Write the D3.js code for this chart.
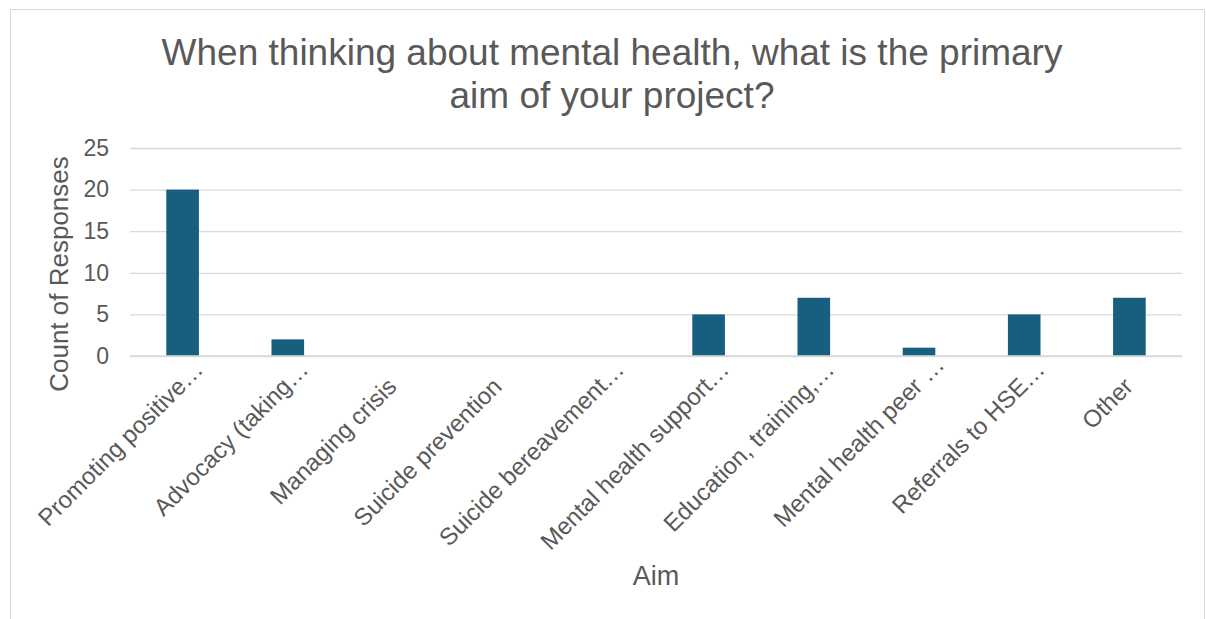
<!DOCTYPE html>
<html>
<head>
<meta charset="utf-8">
<script src="https://cdn.jsdelivr.net/npm/d3@7"></script>
<style>
  html, body { margin: 0; padding: 0; background: #fff; }
  svg { display: block; font-family: "Liberation Sans", Arial, sans-serif; }
</style>
</head>
<body>
<svg id="chart" width="1206" height="619"></svg>
<script>
// Survey responses by primary aim
const categories = [
  "Promoting positive…",
  "Advocacy (taking…",
  "Managing crisis",
  "Suicide prevention",
  "Suicide bereavement…",
  "Mental health support…",
  "Education, training,…",
  "Mental health peer …",
  "Referrals to HSE…",
  "Other"
];
const counts = [20, 2, 0, 0, 0, 5, 7, 1, 5, 7];
const yTicks = [0, 5, 10, 15, 20, 25];

const titleLines = [
  "When thinking about mental health, what is the primary",
  "aim of your project?"
];

const svg = d3.select("#chart");
const textColor = "#595959";
const fontFamily = "Liberation Sans, Arial, sans-serif";

// outer chart frame
svg.append("rect")
  .attr("x", 10.5).attr("y", 9.5)
  .attr("width", 1194).attr("height", 620)
  .attr("fill", "#fff").attr("stroke", "#d9d9d9");

const plot = { left: 130, right: 1182, top: 148, bottom: 356 };

const x = d3.scaleBand()
  .domain(categories)
  .range([plot.left, plot.right])
  .paddingInner(0.69)
  .paddingOuter(0.345);

const y = d3.scaleLinear()
  .domain([0, 25])
  .range([plot.bottom, plot.top]);

// gridlines and value ticks
const yAxis = d3.axisLeft(y)
  .tickValues(yTicks)
  .tickSize(-(plot.right - plot.left))
  .tickPadding(21);

const gy = svg.append("g")
  .attr("transform", `translate(${plot.left},0)`)
  .call(yAxis);
gy.select(".domain").remove();
gy.selectAll(".tick line").attr("stroke", "#d9d9d9").attr("stroke-width", 1.3);
gy.selectAll(".tick text")
  .attr("fill", textColor)
  .attr("font-size", 23)
  .attr("font-family", fontFamily);

// bars
svg.append("g")
  .selectAll("rect")
  .data(counts)
  .join("rect")
  .attr("x", (d, i) => x(categories[i]))
  .attr("y", d => y(d))
  .attr("width", x.bandwidth())
  .attr("height", d => y(0) - y(d))
  .attr("fill", "#175e7f");

// baseline
svg.append("line")
  .attr("x1", plot.left).attr("x2", plot.right)
  .attr("y1", y(0)).attr("y2", y(0))
  .attr("stroke", "#d9d9d9").attr("stroke-width", 1.5);

// category labels, rotated -45°; a trailing ellipsis hangs past the anchor
const labelSize = 24;
const measurer = svg.append("text")
  .attr("font-size", labelSize)
  .attr("font-family", fontFamily)
  .attr("visibility", "hidden");
function textWidth(s) {
  measurer.text(s);
  return measurer.node().getComputedTextLength();
}

const xAxis = d3.axisBottom(x).tickSize(0).tickPadding(0);
const gx = svg.append("g")
  .attr("transform", `translate(0,${plot.bottom})`)
  .call(xAxis);
gx.select(".domain").remove();
gx.selectAll(".tick text")
  .attr("fill", textColor)
  .attr("font-size", labelSize)
  .attr("font-family", fontFamily)
  .attr("text-anchor", "start")
  .attr("dy", null)
  .attr("y", 0)
  .attr("x", d => -textWidth(d.replace(/…$/, "")))
  .attr("transform", "translate(5,32) rotate(-45)");
measurer.remove();

// axis titles
svg.append("text")
  .attr("transform", "translate(68,274) rotate(-90)")
  .attr("text-anchor", "middle")
  .attr("fill", textColor)
  .attr("font-size", 26)
  .text("Count of Responses");

svg.append("text")
  .attr("x", (plot.left + plot.right) / 2)
  .attr("y", 585)
  .attr("text-anchor", "middle")
  .attr("fill", textColor)
  .attr("font-size", 27)
  .text("Aim");

// chart title
svg.append("g")
  .selectAll("text")
  .data(titleLines)
  .join("text")
  .attr("x", 612)
  .attr("y", (d, i) => 65 + i * 43)
  .attr("text-anchor", "middle")
  .attr("fill", textColor)
  .attr("font-size", 37)
  .text(d => d);
</script>
</body>
</html>
